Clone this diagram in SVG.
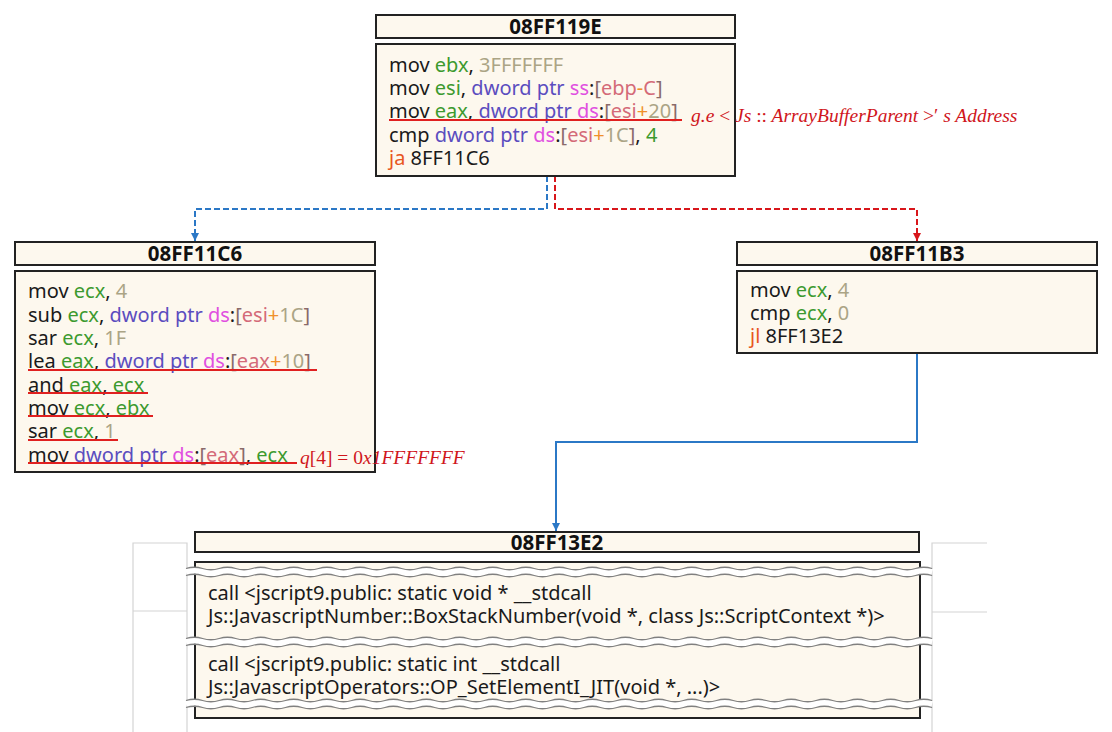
<svg xmlns="http://www.w3.org/2000/svg" xmlns:xlink="http://www.w3.org/1999/xlink" width="1112" height="732" viewBox="0 0 1112 732">
<style>
.box{fill:#fdf8ee;stroke:#222;stroke-width:2}
.t{font-family:"Noto Sans","Open Sans",sans-serif;font-size:20px;fill:#1a1a1a}
.h{font-family:"Noto Sans","Open Sans",sans-serif;font-size:20.5px;font-weight:bold;fill:#111;text-anchor:middle}
.r{fill:#3c9a2e}
.n{fill:#aba485}
.p{fill:#5b4dbf}
.s{fill:#e04fe0}
.m{fill:#d46a78}
.o{fill:#f0902a}
.j{fill:#e8561e}
.b{fill:#8a6a6a}
.ul{stroke:#e02020;stroke-width:2;fill:none}
.ann{font-family:"Liberation Serif",serif;font-style:italic;font-size:19.5px;fill:#d0161c}
.up{font-style:normal}
.panel{stroke:#d4d4d4;stroke-width:1.2;fill:none}
.wband{fill:none;stroke:#fff;stroke-width:6}
.wline{fill:none;stroke:#808080;stroke-width:1.3}
.cb{fill:none;stroke:#2b78c6;stroke-width:2}
.cr{fill:none;stroke:#d8161b;stroke-width:2}
.dash{stroke-dasharray:6 3}
</style>
<defs>
<marker id="ab" markerWidth="10" markerHeight="10" refX="9" refY="5" orient="auto" markerUnits="userSpaceOnUse"><path d="M1,1 L9,5 L1,9 Z" fill="#2b78c6"/></marker>
<marker id="ar" markerWidth="10" markerHeight="10" refX="9" refY="5" orient="auto" markerUnits="userSpaceOnUse"><path d="M1,1 L9,5 L1,9 Z" fill="#d8161b"/></marker>
<path id="wv" d="M0,0 q8.29,-2.5 16.58,0 t16.58,0 t16.58,0 t16.58,0 t16.58,0 t16.58,0 t16.58,0 t16.58,0 t16.58,0 t16.58,0 t16.58,0 t16.58,0 t16.58,0 t16.58,0 t16.58,0 t16.58,0 t16.58,0 t16.58,0 t16.58,0 t16.58,0 t16.58,0 t16.58,0 t16.58,0 t16.58,0 t16.58,0 t16.58,0 t16.58,0 t16.58,0 t16.58,0 t16.58,0 t16.58,0 t16.58,0 t16.58,0 t16.58,0 t16.58,0 t16.58,0 t16.58,0 t16.58,0 t16.58,0 t16.58,0 t16.58,0 t16.58,0 t16.58,0 t16.58,0 t16.58,0"/>
</defs>
<rect width="1112" height="732" fill="#fff"/>

<g id="panels">
<path class="panel" d="M133,732 V543 H187 V732 M133,611 H187"/>
<path class="panel" d="M987,543 H932 V732 M932,612 H987"/>
</g>

<g id="connectors">
<path class="cb dash" d="M547,176 V209 H195 V241" marker-end="url(#ab)"/>
<path class="cr dash" d="M555,176 V209 H917 V241" marker-end="url(#ar)"/>
<path class="cb" d="M917,353 V442 H556 V531" marker-end="url(#ab)"/>
</g>

<g id="node-08FF119E">
<rect class="box" x="376" y="15" width="359" height="23"/>
<text class="h" x="555.5" y="34">08FF119E</text>
<rect class="box" x="376" y="44" width="359" height="132"/>
<text class="t" x="389" y="72">mov <tspan class="r">ebx</tspan>, <tspan class="n">3FFFFFFF</tspan></text>
<text class="t" x="389" y="95">mov <tspan class="r">esi</tspan>, <tspan class="p">dword ptr</tspan> <tspan class="s">ss</tspan>:<tspan class="b">[</tspan><tspan class="m">ebp</tspan><tspan class="o">-</tspan><tspan class="m">C</tspan><tspan class="b">]</tspan></text>
<text class="t" x="389" y="118">mov <tspan class="r">eax</tspan>, <tspan class="p">dword ptr</tspan> <tspan class="s">ds</tspan>:<tspan class="b">[</tspan><tspan class="m">esi</tspan><tspan class="o">+</tspan><tspan class="n">20</tspan><tspan class="b">]</tspan></text>
<text class="t" x="389" y="142">cmp <tspan class="p">dword ptr</tspan> <tspan class="s">ds</tspan>:<tspan class="b">[</tspan><tspan class="m">esi</tspan><tspan class="o">+</tspan><tspan class="n">1C</tspan><tspan class="b">]</tspan>, <tspan class="r">4</tspan></text>
<text class="t" x="389" y="165"><tspan class="j">ja</tspan> 8FF11C6</text>
<line class="ul" x1="389" y1="120" x2="682" y2="120"/>
<text class="ann" x="691" y="122">g.e <tspan class="up">&lt;</tspan> Js <tspan class="up">::</tspan> ArrayBufferParent <tspan class="up">&gt;′</tspan> s Address</text>
</g>

<g id="node-08FF11C6">
<rect class="box" x="15" y="242" width="360" height="23"/>
<text class="h" x="195" y="261">08FF11C6</text>
<rect class="box" x="15" y="271" width="360" height="201"/>
<text class="t" x="28" y="298">mov <tspan class="r">ecx</tspan>, <tspan class="n">4</tspan></text>
<text class="t" x="28" y="322">sub <tspan class="r">ecx</tspan>, <tspan class="p">dword ptr</tspan> <tspan class="s">ds</tspan>:<tspan class="b">[</tspan><tspan class="m">esi</tspan><tspan class="o">+</tspan><tspan class="n">1C</tspan><tspan class="b">]</tspan></text>
<text class="t" x="28" y="345">sar <tspan class="r">ecx</tspan>, <tspan class="n">1F</tspan></text>
<text class="t" x="28" y="368">lea <tspan class="r">eax</tspan>, <tspan class="p">dword ptr</tspan> <tspan class="s">ds</tspan>:<tspan class="b">[</tspan><tspan class="m">eax</tspan><tspan class="o">+</tspan><tspan class="n">10</tspan><tspan class="b">]</tspan></text>
<text class="t" x="28" y="392">and <tspan class="r">eax</tspan>, <tspan class="r">ecx</tspan></text>
<text class="t" x="28" y="415">mov <tspan class="r">ecx</tspan>, <tspan class="r">ebx</tspan></text>
<text class="t" x="28" y="438">sar <tspan class="r">ecx</tspan>, <tspan class="n">1</tspan></text>
<text class="t" x="28" y="462">mov <tspan class="p">dword ptr</tspan> <tspan class="s">ds</tspan>:<tspan class="b">[</tspan><tspan class="m">eax</tspan><tspan class="b">]</tspan>, <tspan class="r">ecx</tspan></text>
<line class="ul" x1="28" y1="370" x2="317" y2="370"/>
<line class="ul" x1="28" y1="393" x2="148" y2="393"/>
<line class="ul" x1="28" y1="416" x2="153" y2="416"/>
<line class="ul" x1="28" y1="440" x2="118" y2="440"/>
<line class="ul" x1="28" y1="463" x2="297" y2="463"/>
<text class="ann" x="300" y="464">q<tspan class="up">[4] = 0</tspan>x1FFFFFFF</text>
</g>

<g id="node-08FF11B3">
<rect class="box" x="737" y="242" width="360" height="23"/>
<text class="h" x="917" y="261">08FF11B3</text>
<rect class="box" x="737" y="271" width="360" height="82"/>
<text class="t" x="750" y="297">mov <tspan class="r">ecx</tspan>, <tspan class="n">4</tspan></text>
<text class="t" x="750" y="320">cmp <tspan class="r">ecx</tspan>, <tspan class="n">0</tspan></text>
<text class="t" x="750" y="343"><tspan class="j">jl</tspan> 8FF13E2</text>
</g>

<g id="node-08FF13E2">
<rect class="box" x="195" y="532" width="724" height="20"/>
<text class="h" x="557" y="549.5">08FF13E2</text>
<rect class="box" x="195" y="562" width="725" height="156"/>
<text class="t" x="208" y="600">call &lt;jscript9.public: static void * __stdcall</text>
<text class="t" x="208" y="623">Js::JavascriptNumber::BoxStackNumber(void *, class Js::ScriptContext *)&gt;</text>
<text class="t" x="208" y="671">call &lt;jscript9.public: static int __stdcall</text>
<text class="t" x="208" y="694">Js::JavascriptOperators::OP_SetElementI_JIT(void *, ...)&gt;</text>
<g transform="translate(186,572)"><use xlink:href="#wv" class="wband"/><use xlink:href="#wv" y="-3.5" class="wline"/><use xlink:href="#wv" y="3.5" class="wline"/></g>
<g transform="translate(186,642)"><use xlink:href="#wv" class="wband"/><use xlink:href="#wv" y="-3.5" class="wline"/><use xlink:href="#wv" y="3.5" class="wline"/></g>
<g transform="translate(186,704)"><use xlink:href="#wv" class="wband"/><use xlink:href="#wv" y="-3.5" class="wline"/><use xlink:href="#wv" y="3.5" class="wline"/></g>
</g>
</svg>
